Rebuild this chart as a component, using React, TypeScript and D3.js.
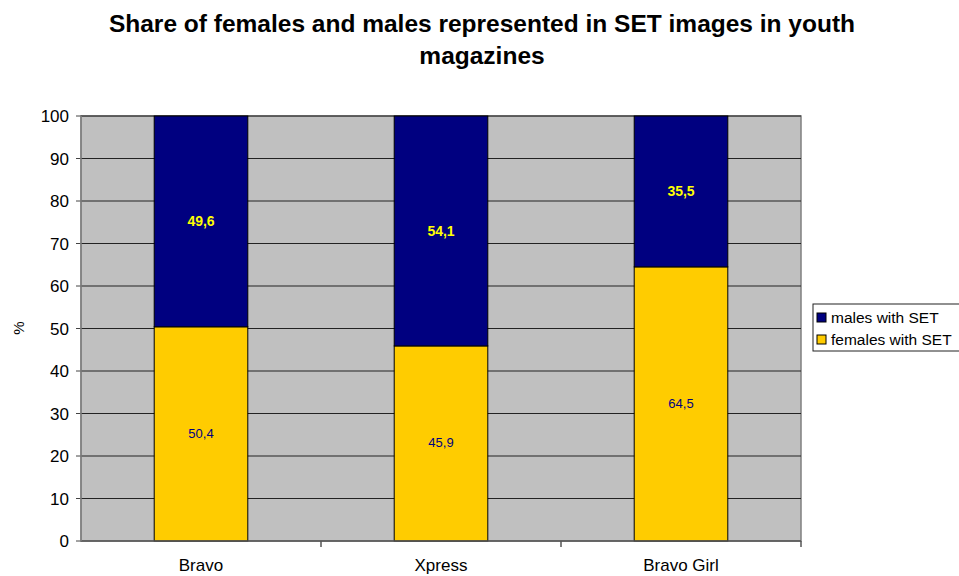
import {scaleBand, scaleLinear, stack} from "d3";

const CATEGORIES = ["Bravo", "Xpress", "Bravo Girl"];
const FEMALES = [50.4, 45.9, 64.5];
const MALES = [49.6, 54.1, 35.5];
const Y_TICKS = [0, 10, 20, 30, 40, 50, 60, 70, 80, 90, 100];
const SERIES_LABELS = ["females with SET", "males with SET"];

const WIDTH = 959;
const HEIGHT = 576;
const FONT = "Arial, 'Liberation Sans', sans-serif";

export default function App() {
  const plot = {left: 81, right: 801, top: 116, bottom: 541};

  const x = scaleBand<string>().domain(CATEGORIES).range([plot.left, plot.right]).paddingInner(0.61).paddingOuter(0.305);
  const y = scaleLinear().domain([0, 100]).range([plot.bottom, plot.top]);

  const rows = CATEGORIES.map((category, i) => ({category, females: FEMALES[i], males: MALES[i]}));
  const stacked = stack<{category: string; females: number; males: number}>().keys(["females", "males"])(rows);
  const fills = ["#ffcc00", "#000080"];
  // category separators on the x axis
  const boundaries = CATEGORIES.map((_, i) => plot.left + ((i + 1) * (plot.right - plot.left)) / CATEGORIES.length);

  return (
    <svg width={WIDTH} height={HEIGHT} style={{position: "absolute", left: 0, top: 0, background: "#fff"}} fontFamily={FONT}>
      <text x={482} y={32} textAnchor="middle" fontSize={24.5} fontWeight="bold" fill="#000">
        Share of females and males represented in SET images in youth
      </text>
      <text x={482} y={64} textAnchor="middle" fontSize={24.5} fontWeight="bold" fill="#000">
        magazines
      </text>

      <rect x={plot.left} y={plot.top} width={plot.right - plot.left} height={plot.bottom - plot.top} fill="#c0c0c0" stroke="#808080" strokeWidth={1.5} />

      {Y_TICKS.map((tick) => (
        <g key={tick}>
          {tick > 0 && <line x1={plot.left} x2={plot.right} y1={y(tick)} y2={y(tick)} stroke="#222" strokeWidth={1} />}
          <line x1={plot.left - 5} x2={plot.left} y1={y(tick)} y2={y(tick)} stroke="#444" />
          <text x={plot.left - 12} y={y(tick) + 6} textAnchor="end" fontSize={17} fill="#000">
            {tick}
          </text>
        </g>
      ))}

      {stacked.map((layer, li) =>
        layer.map((d, i) => (
          <rect
            key={`${li}-${i}`}
            x={x(CATEGORIES[i])}
            y={y(d[1])}
            width={x.bandwidth()}
            height={y(d[0]) - y(d[1])}
            fill={fills[li]}
            stroke="#000"
            strokeWidth={1}
          />
        ))
      )}

      {stacked.map((layer, li) =>
        layer.map((d, i) => {
          const cx = (x(CATEGORIES[i]) ?? 0) + x.bandwidth() / 2;
          const cy = y((d[0] + d[1]) / 2);
          const value = d[1] - d[0];
          return li === 0 ? (
            <text key={`l${li}-${i}`} x={cx} y={cy + 4} textAnchor="middle" fontSize={13} fill="#000080">
              {value.toFixed(1).replace(".", ",")}
            </text>
          ) : (
            <text key={`l${li}-${i}`} x={cx} y={cy + 5} textAnchor="middle" fontSize={14} fontWeight="bold" fill="#ffff00">
              {value.toFixed(1).replace(".", ",")}
            </text>
          );
        })
      )}

      <line x1={plot.left} x2={plot.right} y1={plot.bottom} y2={plot.bottom} stroke="#555" strokeWidth={1.5} />
      <line x1={plot.left} x2={plot.left} y1={plot.top} y2={plot.bottom} stroke="#808080" strokeWidth={1.5} />
      {boundaries.map((bx) => (
        <line key={bx} x1={bx} x2={bx} y1={plot.bottom} y2={plot.bottom + 6} stroke="#555" strokeWidth={1.5} />
      ))}

      {CATEGORIES.map((category) => (
        <text key={category} x={(x(category) ?? 0) + x.bandwidth() / 2} y={571} textAnchor="middle" fontSize={17} fill="#000">
          {category}
        </text>
      ))}

      <text transform={`translate(24,328) rotate(-90)`} textAnchor="middle" fontSize={15} fill="#000">
        %
      </text>

      <rect x={813} y={304} width={150} height={47} fill="#fff" stroke="#222" strokeWidth={1} />
      {[1, 0].map((si, row) => (
        <g key={si} transform={`translate(817,${318 + row * 22})`}>
          <rect x={0} y={-5} width={9} height={9} fill={fills[si]} stroke="#000" strokeWidth={1} />
          <text x={14} y={5} fontSize={15.5} fill="#000">
            {SERIES_LABELS[si]}
          </text>
        </g>
      ))}
    </svg>
  );
}
